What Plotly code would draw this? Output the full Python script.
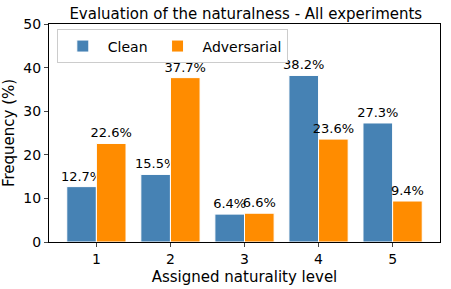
import plotly.graph_objects as go

levels = [1, 2, 3, 4, 5]
clean = [12.7, 15.5, 6.4, 38.2, 27.3]
adversarial = [22.6, 37.7, 6.6, 23.6, 9.4]
tick_labels = ["1", "2", "3", "4", "5"]

font = "DejaVu Sans"
fig = go.Figure()
for name, vals, color in [("Clean", clean, "#4682b4"), ("Adversarial", adversarial, "#ff8c00")]:
    fig.add_trace(go.Bar(
        x=levels, y=vals, name=name,
        marker=dict(color=color, line=dict(color="white", width=1)),
        text=[f"{v}%" for v in vals], textposition="outside",
        textfont=dict(family=font, size=13, color="black"),
        constraintext="none",
        cliponaxis=False,
    ))

fig.update_layout(
    width=451, height=289,
    margin=dict(l=49, r=11, t=24, b=47),
    barmode="group", bargap=0.2, bargroupgap=0,
    plot_bgcolor="white", paper_bgcolor="white",
    font=dict(family=font, color="black"),
    title=dict(text="Evaluation of the naturalness - All experiments", x=0.545, xanchor="center",
               y=0.952, yanchor="middle", font=dict(size=15, family=font)),
    legend=dict(orientation="h", x=0.02, y=0.975, xanchor="left", yanchor="top",
                bordercolor="#cccccc", borderwidth=1, bgcolor="white",
                font=dict(size=14, family=font), itemwidth=40, traceorder="normal"),
    xaxis=dict(range=[0.36, 5.64], tickvals=levels, ticktext=tick_labels, automargin=False,
               showline=True, linecolor="black", linewidth=1, mirror=True,
               ticks="outside", ticklen=4, tickfont=dict(size=14),
               title=dict(text="Assigned naturality level", font=dict(size=15), standoff=5),
               showgrid=False, zeroline=False),
    yaxis=dict(range=[0, 50], tickvals=[0, 10, 20, 30, 40, 50], automargin=False,
               showline=True, linecolor="black", linewidth=1, mirror=True,
               ticks="outside", ticklen=4, tickfont=dict(size=14),
               title=dict(text="Frequency (%)", font=dict(size=15), standoff=9),
               showgrid=False, zeroline=False),
)
fig.write_html("out.html", config={"displayModeBar": False},
               post_script="document.body.style.margin='0';")
